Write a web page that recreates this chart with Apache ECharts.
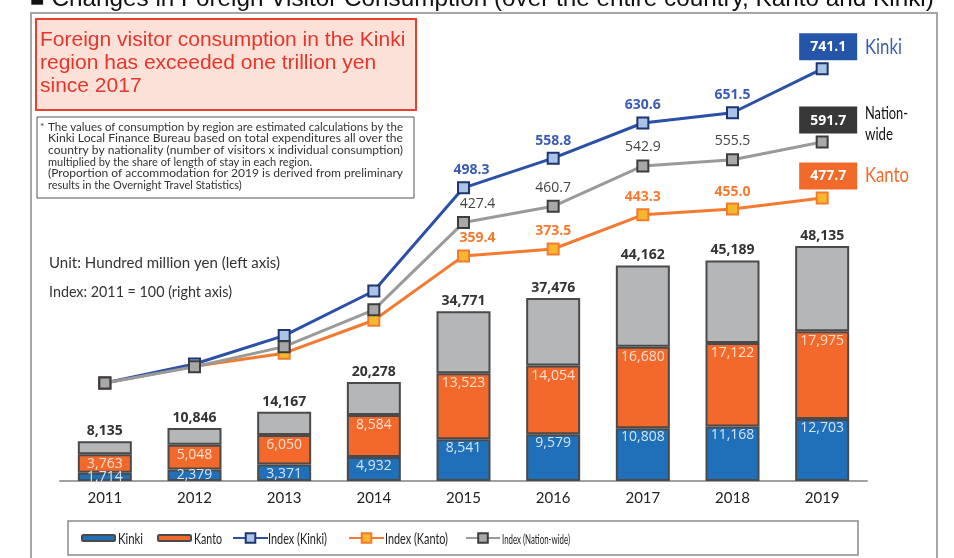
<!DOCTYPE html>
<html>
<head>
<meta charset="utf-8">
<script src="https://cdn.jsdelivr.net/npm/echarts@6/dist/echarts.min.js"></script>
<style>
html, body { margin: 0; padding: 0; background: #fff; }
#main { width: 954px; height: 558px; }
</style>
</head>
<body>
<div id="main"></div>
<script>
// data (hundred million yen / index 2011 = 100)
var years = ['2011', '2012', '2013', '2014', '2015', '2016', '2017', '2018', '2019'];
var kinki = [1714, 2379, 3371, 4932, 8541, 9579, 10808, 11168, 12703];
var kanto = [3763, 5048, 6050, 8584, 13523, 14054, 16680, 17122, 17975];
var others = [2658, 3419, 4746, 6762, 12707, 13843, 16674, 16899, 17457];
var totals = [8135, 10846, 14167, 20278, 34771, 37476, 44162, 45189, 48135];
var idxKinki = [100, 138.8, 196.7, 287.7, 498.3, 558.8, 630.6, 651.5, 741.1];
var idxKanto = [100, 134.1, 160.8, 228.1, 359.4, 373.5, 443.3, 455.0, 477.7];
var idxNation = [100, 133.3, 174.2, 249.3, 427.4, 460.7, 542.9, 555.5, 591.7];

var numFont = '"Open Sans", "Noto Sans", sans-serif';
var txtFont = 'Lato, "Noto Sans", sans-serif';
var arialFont = '"Liberation Sans", Arial, sans-serif';

function fmt(n) {
	return n.toLocaleString('en-US');
}

// 画布量字宽, 用来把文字压窄或拉宽
var ctx = document.createElement('canvas').getContext('2d');
function fitScale(text, size, width) {
	ctx.font = size + 'px Lato';
	return width / ctx.measureText(text).width;
}
function fitText(text, x, y, size, width, color) {
	return {
		type: 'text', x: x, y: y, scaleX: fitScale(text, size, width),
		style: { text: text, fontSize: size, fontFamily: txtFont, fill: color, verticalAlign: 'middle' }
	};
}

// line points: no labels before 2015, boxed label on 2019
function lineData(vals, boxColor, off2015) {
	return vals.map(function (v, i) {
		var item = { value: v };
		if (i < 4) {
			item.label = { show: false };
		} else if (i === 4) {
			item.label = { offset: [off2015, 0] };
		} else if (i === vals.length - 1) {
			item.label = {
				distance: 2,
				offset: [6, 0],
				color: '#fff',
				fontWeight: 'bold',
				backgroundColor: boxColor,
				padding: [7, 11, 6, 11]
			};
		}
		return item;
	});
}

function barLabelData(vals, smallPos) {
	return vals.map(function (v, i) {
		var item = { value: v };
		if (i < 2 && smallPos) item.label = { position: smallPos };
		return item;
	});
}

// note lines, stretched to look justified
var noteLines = [
	['The values of consumption by region are estimated calculations by the', true],
	['Kinki Local Finance Bureau based on total expenditures all over the', true],
	['country by nationality (number of visitors x individual consumption)', true],
	['multiplied by the share of length of stay in each region.', false],
	['(Proportion of accommodation for 2019 is derived from preliminary', true],
	['results in the Overnight Travel Statistics)', false]
];
var noteGraphics = noteLines.map(function (l, i) {
	return {
		type: 'text', x: 48, y: 127 + i * 11.7, scaleX: l[1] ? fitScale(l[0], 11, 355) : 1,
		style: { text: l[0], fontSize: 11, fontFamily: txtFont, fill: '#333', verticalAlign: 'middle' }
	};
});

// legend labels drawn as narrow text
var legendTexts = [
	fitText('Kinki', 118, 539, 15, 25, '#222'),
	fitText('Kanto', 194, 539, 15, 28, '#222'),
	fitText('Index (Kinki)', 268, 539, 15, 59, '#222'),
	fitText('Index (Kanto)', 385, 539, 15, 63, '#222'),
	fitText('Index (Nation-wide)', 502, 539, 14, 68, '#222')
];
var nameTexts = [
	fitText('Kinki', 865, 47, 21, 37, '#3a5cb3'),
	fitText('Nation-', 865, 113, 18, 43, '#111'),
	fitText('wide', 865, 134, 18, 28, '#111'),
	fitText('Kanto', 865, 175, 21, 44, '#f26a2a')
];

var myChart = echarts.init(document.getElementById('main'));
var option = {
	animation: false,
	grid: { left: 60, right: 87, top: 40, height: 441 },
	xAxis: {
		type: 'category',
		data: years,
		axisLine: { lineStyle: { color: '#a0a0a0', width: 2 } },
		axisTick: { show: false },
		axisLabel: { color: '#222', fontSize: 15, fontFamily: txtFont, margin: 10 }
	},
	yAxis: [{
		type: 'value', min: 0, max: 90330, show: false
	}, {
		type: 'value', min: -100, max: 800, show: false
	}],
	legend: [
		{ data: ['Kinki'], left: 81, itemWidth: 33, itemHeight: 6 },
		{ data: ['Kanto'], left: 157, itemWidth: 33, itemHeight: 6 },
		{ data: ['Index (Kinki)'], left: 232, itemWidth: 35, itemHeight: 12 },
		{ data: ['Index (Kanto)'], left: 348, itemWidth: 35, itemHeight: 12 },
		{ data: ['Index (Nation-wide)'], left: 465, itemWidth: 34, itemHeight: 12 }
	].map(function (l) {
		l.top = 532;
		l.selectedMode = false;
		l.padding = 0;
		l.formatter = function () { return ' '; };
		l.textStyle = { fontSize: 12 };
		return l;
	}),
	graphic: [
		{ type: 'text', x: 30, y: 11, style: { text: '\u25A0 Changes in Foreign Visitor Consumption (over the entire country, Kanto and Kinki)', fontSize: 24.3, fontFamily: arialFont, fill: '#111', verticalAlign: 'bottom' } },
		{ type: 'rect', shape: { x: 31, y: 13, width: 906, height: 600 }, style: { fill: 'none', stroke: '#a6a6a6', lineWidth: 2 } },
		{ type: 'rect', shape: { x: 36, y: 19, width: 380, height: 91 }, style: { fill: '#fbe1d7', stroke: '#e8412c', lineWidth: 2 } },
		{ type: 'text', x: 40, y: 29, style: { text: 'Foreign visitor consumption in the Kinki\nregion has exceeded one trillion yen\nsince 2017', fontSize: 21, lineHeight: 23, fontFamily: arialFont, fill: '#e8352b' } },
		{ type: 'rect', shape: { x: 37, y: 117, width: 377, height: 81 }, style: { fill: '#fff', stroke: '#555', lineWidth: 1 } },
		{ type: 'text', x: 40, y: 127, style: { text: '*', fontSize: 10, fontFamily: txtFont, fill: '#333', verticalAlign: 'middle' } },
		fitText('Unit: Hundred million yen (left axis)', 49, 263, 14.5, 231, '#333'),
		fitText('Index: 2011 = 100 (right axis)', 49, 292, 14.5, 183, '#333'),
		{ type: 'rect', shape: { x: 68, y: 521, width: 790, height: 34 }, style: { fill: 'none', stroke: '#8a8a8a', lineWidth: 1.5 } }
	].concat(noteGraphics, legendTexts, nameTexts),
	series: [{
		name: 'Kinki',
		type: 'bar',
		stack: 'total',
		barWidth: 54,
		itemStyle: { color: '#1f70b8', borderColor: '#4a4a4a', borderWidth: 2 },
		label: { show: true, position: 'insideTop', distance: 2, color: '#d3e4f6', fontSize: 14, fontFamily: numFont,
			formatter: function (p) { return fmt(p.value); } },
		data: barLabelData(kinki, 'inside')
	}, {
		name: 'Kanto',
		type: 'bar',
		stack: 'total',
		barWidth: 54,
		itemStyle: { color: '#f2692b', borderColor: '#4a4a4a', borderWidth: 2 },
		label: { show: true, position: 'insideTop', distance: 3, color: '#fde2d2', fontSize: 14, fontFamily: numFont,
			formatter: function (p) { return fmt(p.value); } },
		data: barLabelData(kanto, null)
	}, {
		name: 'Others',
		type: 'bar',
		stack: 'total',
		barWidth: 54,
		itemStyle: { color: '#b5b6b8', borderColor: '#4a4a4a', borderWidth: 2 },
		label: { show: true, position: 'top', distance: 3, color: '#333', fontSize: 14, fontWeight: 'bold', fontFamily: numFont,
			formatter: function (p) { return fmt(totals[p.dataIndex]); } },
		data: others
	}, {
		name: 'Index (Kanto)',
		type: 'line',
		yAxisIndex: 1,
		symbol: 'rect',
		symbolSize: 11,
		lineStyle: { color: '#f47a30', width: 3 },
		itemStyle: { color: '#f6b92e', borderColor: '#f47a30', borderWidth: 2 },
		label: { show: true, position: 'top', distance: 4, color: '#f47a30', fontSize: 14, fontWeight: 'bold', fontFamily: numFont,
			formatter: function (p) { return p.value.toFixed(1); } },
		data: lineData(idxKanto, '#f26a2a', 14)
	}, {
		name: 'Index (Kinki)',
		type: 'line',
		yAxisIndex: 1,
		symbol: 'rect',
		symbolSize: 11,
		lineStyle: { color: '#2b50a8', width: 3 },
		itemStyle: { color: '#a9c4e6', borderColor: '#1f3572', borderWidth: 2 },
		label: { show: true, position: 'top', distance: 4, color: '#3a5cb3', fontSize: 14, fontWeight: 'bold', fontFamily: numFont,
			formatter: function (p) { return p.value.toFixed(1); } },
		data: lineData(idxKinki, '#2455a8', 8)
	}, {
		name: 'Index (Nation-wide)',
		type: 'line',
		yAxisIndex: 1,
		symbol: 'rect',
		symbolSize: 11,
		lineStyle: { color: '#9a9a9a', width: 3 },
		itemStyle: { color: '#a8a8a8', borderColor: '#3d3d3d', borderWidth: 2 },
		label: { show: true, position: 'top', distance: 5, color: '#444', fontSize: 14, fontFamily: numFont,
			formatter: function (p) { return p.value.toFixed(1); } },
		data: lineData(idxNation, '#383838', 14)
	}]
};
myChart.setOption(option);
</script>
</body>
</html>
